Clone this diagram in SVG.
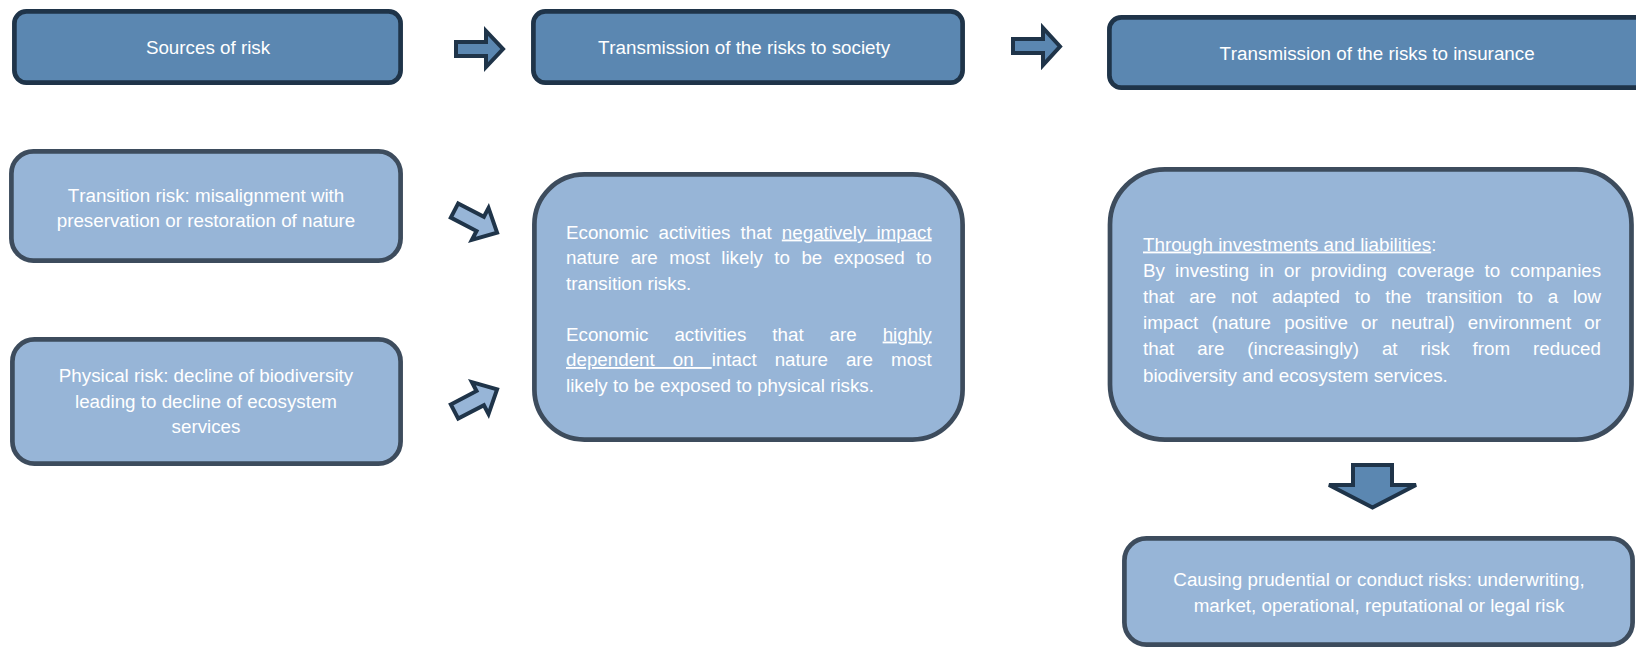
<svg xmlns="http://www.w3.org/2000/svg" width="1636" height="647" viewBox="0 0 1636 647">
<style>
  .dark { fill: #5b87b1; stroke: #1f3449; stroke-width: 4.7; }
  .light { fill: #97b5d7; stroke: #3d4c5d; stroke-width: 4.7; }
  .arrD { fill: #5b87b1; stroke: #1f3449; stroke-width: 4; stroke-linejoin: miter; }
  .arrL { fill: #97b5d7; stroke: #1f3449; stroke-width: 4; stroke-linejoin: miter; }
  text { font-family: "Liberation Sans", Arial, sans-serif; font-size: 18.8px; fill: #ffffff; font-kerning: none; }
  .c { text-anchor: middle; }
  .u { text-decoration: underline; }
</style>
<rect width="1636" height="647" fill="#ffffff"/>

<g id="connectors">
  <path class="arrD" d="M456,42 H486 V31 L503,49 L486,67 V56 H456 Z"/>
  <path class="arrD" d="M1013,39 H1043 V28 L1060,46.5 L1043,65 V53 H1013 Z"/>
  <path class="arrL" transform="translate(454.5,210.5) rotate(27.5)" d="M0,-8 H29 V-18 L48,0 L29,18 V8 H0 Z"/>
  <path class="arrL" transform="translate(454.5,411.5) rotate(-27.5)" d="M0,-8 H29 V-18 L48,0 L29,18 V8 H0 Z"/>
  <path class="arrD" d="M1353,465 H1392 V485 H1416 L1372.5,507.5 L1329,485 H1353 Z"/>
</g>

<g id="sources">
  <rect class="dark" x="14.4" y="11.4" width="386.2" height="71.2" rx="12"/>
  <text class="c" x="208" y="54">Sources of risk</text>
</g>

<g id="society">
  <rect class="dark" x="533.4" y="11.4" width="429.2" height="71.2" rx="12"/>
  <text class="c" x="744" y="54">Transmission of the risks to society</text>
</g>

<g id="insurance">
  <rect class="dark" x="1109.4" y="17.4" width="560" height="70.2" rx="12"/>
  <text class="c" x="1377" y="60">Transmission of the risks to insurance</text>
</g>

<g id="transition-risk">
  <rect class="light" x="11.4" y="151.4" width="389.2" height="109.2" rx="22"/>
  <text class="c" x="206" y="201.5">Transition risk: misalignment with</text>
  <text class="c" x="206" y="227.3">preservation or restoration of nature</text>
</g>

<g id="physical-risk">
  <rect class="light" x="12.4" y="339.4" width="388.2" height="124.2" rx="22"/>
  <text class="c" x="206" y="382">Physical risk: decline of biodiversity</text>
  <text class="c" x="206" y="407.5">leading to decline of ecosystem</text>
  <text class="c" x="206" y="433">services</text>
</g>

<g id="economic-activities">
  <rect class="light" x="534.4" y="174.4" width="428.2" height="265.2" rx="50"/>
  <text x="566" y="238.5" word-spacing="4.78">Economic activities that <tspan class="u">negatively impact</tspan></text>
  <text x="566" y="264" word-spacing="6.16">nature are most likely to be exposed to</text>
  <text x="566" y="289.5">transition risks.</text>
  <text x="566" y="340.5" word-spacing="20.7">Economic activities that are <tspan class="u">highly</tspan></text>
  <text x="566" y="366" word-spacing="12.8"><tspan class="u">dependent on </tspan>intact nature are most</text>
  <text x="566" y="391.5">likely to be exposed to physical risks.</text>
</g>

<g id="investments-liabilities">
  <rect class="light" x="1110" y="169.4" width="521.5" height="270.2" rx="55"/>
  <text x="1143" y="250.5"><tspan class="u">Through investments and liabilities</tspan>:</text>
  <text x="1143" y="276.7" word-spacing="4.9">By investing in or providing coverage to companies</text>
  <text x="1143" y="302.9" word-spacing="9.6">that are not adapted to the transition to a low</text>
  <text x="1143" y="329.1" word-spacing="7.97">impact (nature positive or neutral) environment or</text>
  <text x="1143" y="355.3" word-spacing="17.7">that are (increasingly) at risk from reduced</text>
  <text x="1143" y="381.5">biodiversity and ecosystem services.</text>
</g>

<g id="prudential-conduct">
  <rect class="light" x="1124.4" y="538.4" width="508.2" height="106.2" rx="22"/>
  <text class="c" x="1379" y="586">Causing prudential or conduct risks: underwriting,</text>
  <text class="c" x="1379" y="612">market, operational, reputational or legal risk</text>
</g>
</svg>
